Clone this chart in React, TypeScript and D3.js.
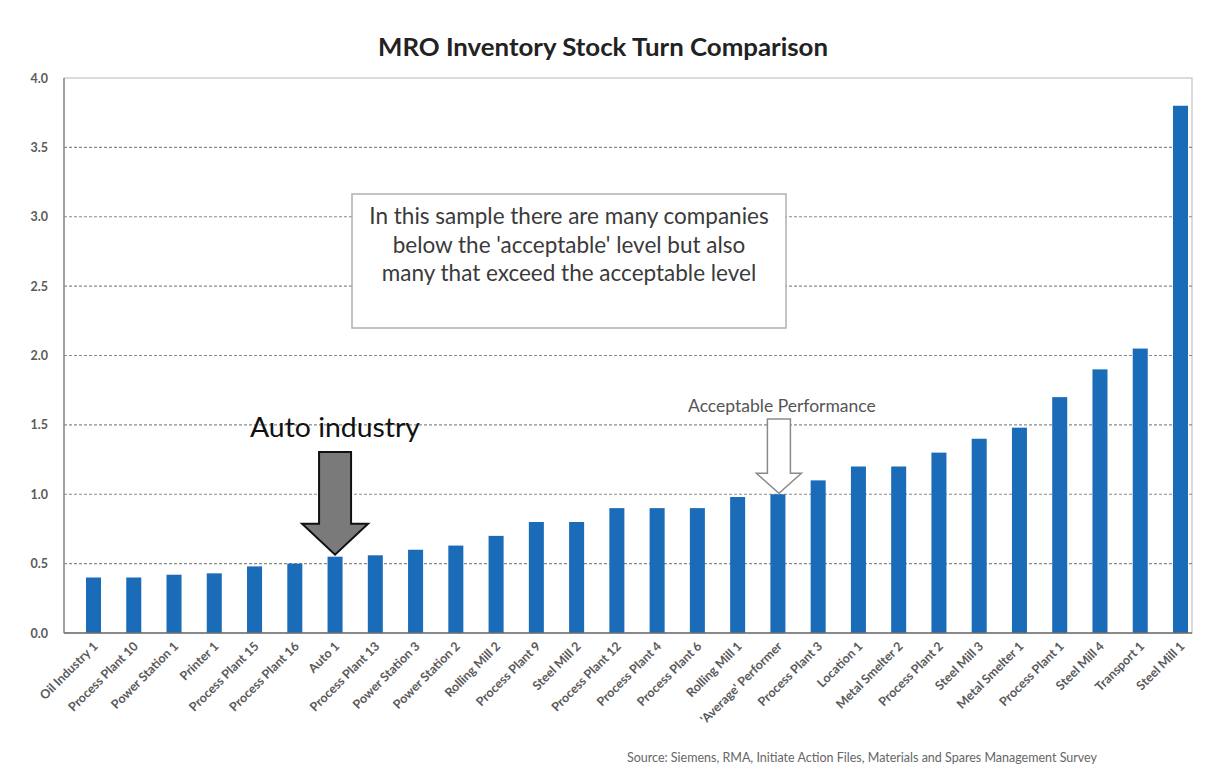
import React from "react";
import * as d3 from "d3";

const categories: string[] = [
  "Oil Industry 1", "Process Plant 10", "Power Station 1", "Printer 1", "Process Plant 15",
  "Process Plant 16", "Auto 1", "Process Plant 13", "Power Station 3", "Power Station 2",
  "Rolling Mill 2", "Process Plant 9", "Steel Mill 2", "Process Plant 12", "Process Plant 4",
  "Process Plant 6", "Rolling Mill 1", "'Average' Performer", "Process Plant 3", "Location 1",
  "Metal Smelter 2", "Process Plant 2", "Steel Mill 3", "Metal Smelter 1", "Process Plant 1",
  "Steel Mill 4", "Transport 1", "Steel Mill 1",
];
const stockTurns: number[] = [
  0.40, 0.40, 0.42, 0.43, 0.48, 0.50, 0.55, 0.56, 0.60, 0.63,
  0.70, 0.80, 0.80, 0.90, 0.90, 0.90, 0.98, 1.00, 1.10, 1.20,
  1.20, 1.30, 1.40, 1.48, 1.70, 1.90, 2.05, 3.80,
];
const yTicks: number[] = [0, 0.5, 1, 1.5, 2, 2.5, 3, 3.5, 4];
const title = "MRO Inventory Stock Turn Comparison";
const boxLines: string[] = [
  "In this sample there are many companies",
  "below the 'acceptable' level but also",
  "many that exceed the acceptable level",
];
const autoLabel = "Auto industry";
const autoCategory = "Auto 1";
const acceptLabel = "Acceptable Performance";
const acceptCategory = "'Average' Performer";
const sourceText = "Source: Siemens, RMA, Initiate Action Files, Materials and Spares Management Survey";

const W = 1209;
const H = 771;
const plot = { left: 64, right: 1192, top: 78, bottom: 633 };
const FONT = "Lato, 'Open Sans', sans-serif";

export default function App() {
  const x = d3.scaleBand<string>().domain(categories).range([73.4, 1200.6]).paddingInner(0.627).paddingOuter(0.313);
  const y = d3.scaleLinear().domain([0, 4]).range([plot.bottom, plot.top]);
  const barColor = "#1a6bb8";

  const autoX = (x(autoCategory) ?? 0) + x.bandwidth() / 2;
  const autoIdx = categories.indexOf(autoCategory);
  const autoTip = y(stockTurns[autoIdx]) - 2;
  const accX = (x(acceptCategory) ?? 0) + x.bandwidth() / 2;
  const accIdx = categories.indexOf(acceptCategory);
  const accTip = y(stockTurns[accIdx]) - 1;

  const arrowPath = (cx: number, tip: number, shaftW: number, headW: number, headH: number, top: number) => {
    const p = d3.path();
    p.moveTo(cx - shaftW / 2, top);
    p.lineTo(cx + shaftW / 2, top);
    p.lineTo(cx + shaftW / 2, tip - headH);
    p.lineTo(cx + headW / 2, tip - headH);
    p.lineTo(cx, tip);
    p.lineTo(cx - headW / 2, tip - headH);
    p.lineTo(cx - shaftW / 2, tip - headH);
    p.closePath();
    return p.toString();
  };

  return (
    <svg width={W} height={H} style={{ position: "absolute", left: 0, top: 0, background: "#fff" }}>
      <rect x={0} y={0} width={W} height={H} fill="#ffffff" />
      <text x={603} y={56} textAnchor="middle" fontFamily={FONT} fontWeight={700} fontSize={25} fill="#222" textLength={450} lengthAdjust="spacingAndGlyphs">
        {title}
      </text>
      {/* plot frame */}
      <rect x={plot.left} y={plot.top} width={plot.right - plot.left} height={plot.bottom - plot.top} fill="#fff" stroke="#c4c4c4" strokeWidth={1.2} />
      {/* gridlines */}
      {yTicks.filter((t) => t > 0 && t < 4).map((t) => (
        <line key={t} x1={plot.left} x2={plot.right} y1={y(t)} y2={y(t)} stroke="#8a8a8a" strokeWidth={1.2} strokeDasharray="3,2" />
      ))}
      {/* y tick labels */}
      {yTicks.map((t) => (
        <text key={t} x={48} y={y(t) + 4.5} textAnchor="end" fontFamily={FONT} fontWeight={700} fontSize={12.5} fill="#5a5a5a">
          {t.toFixed(1)}
        </text>
      ))}
      {/* bars */}
      {categories.map((c, i) => (
        <rect key={c} x={x(c)} y={y(stockTurns[i])} width={x.bandwidth()} height={y(0) - y(stockTurns[i])} fill={barColor} />
      ))}
      {/* axes */}
      <line x1={plot.left} x2={plot.left} y1={plot.top} y2={plot.bottom} stroke="#8c8c8c" strokeWidth={1.5} />
      <line x1={plot.left} x2={plot.right} y1={plot.bottom} y2={plot.bottom} stroke="#6e6e6e" strokeWidth={1.5} />
      {/* x labels */}
      {categories.map((c) => {
        const cx = (x(c) ?? 0) + x.bandwidth() / 2 + 5;
        return (
          <text key={c} transform={`translate(${cx},${plot.bottom + 14}) rotate(-45)`} textAnchor="end" fontFamily={FONT} fontWeight={700} fontSize={12.5} fill="#5a5a5a">
            {c}
          </text>
        );
      })}
      {/* text box */}
      <rect x={352} y={194} width={434} height={134} fill="#fff" stroke="#b0b0b0" strokeWidth={1.5} />
      {boxLines.map((l, i) => (
        <text key={i} x={569} y={224 + i * 28.5} textAnchor="middle" fontFamily={FONT} fontSize={22.5} fill="#3a3a3a">
          {l}
        </text>
      ))}
      {/* auto arrow */}
      <text x={250} y={437} fontFamily={FONT} fontSize={26} fill="#111" textLength={170} lengthAdjust="spacingAndGlyphs">{autoLabel}</text>
      <path d={arrowPath(autoX, autoTip, 32, 66, 31, 452)} fill="#7a7a7a" stroke="#111" strokeWidth={2} />
      {/* acceptable arrow */}
      <text x={accX + 4} y={412} textAnchor="middle" fontFamily={FONT} fontSize={17.5} fill="#555">{acceptLabel}</text>
      <path d={arrowPath(accX + 1, accTip, 23, 45, 20, 419)} fill="#fff" stroke="#8a8a8a" strokeWidth={1.5} />
      {/* source */}
      <text x={1097} y={762} textAnchor="end" fontFamily={FONT} fontSize={12.5} fill="#666">{sourceText}</text>
    </svg>
  );
}
